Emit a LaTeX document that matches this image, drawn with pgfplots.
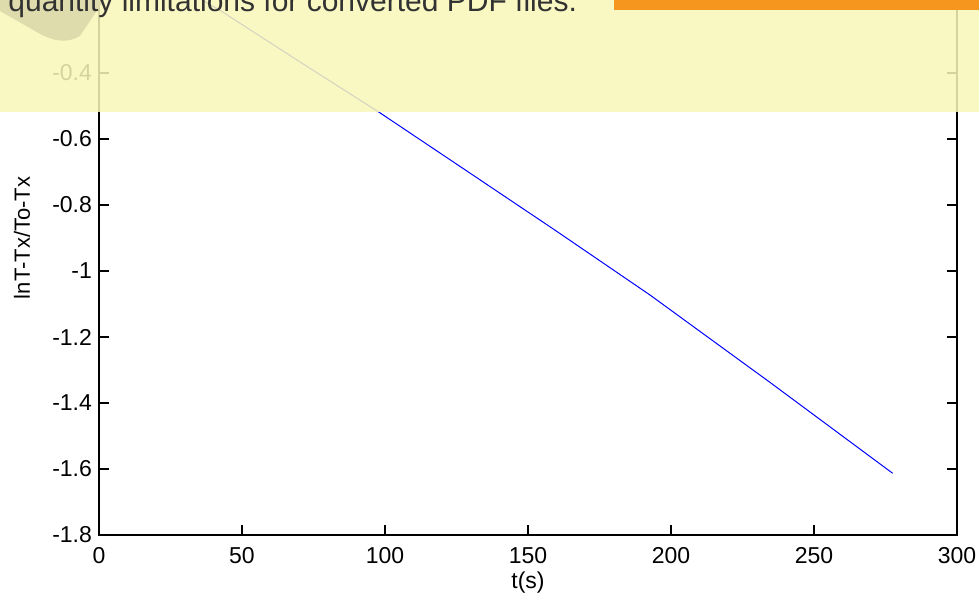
\documentclass[border=0pt]{standalone}
\usepackage{pgfplots}
\pgfplotsset{compat=1.18}
\usepackage{fontspec}
\setmainfont{Liberation Sans}
\definecolor{banner}{RGB}{248,246,184}
\definecolor{blob}{RGB}{222,220,172}
\definecolor{orangebar}{RGB}{247,150,30}
\definecolor{wmtext}{RGB}{50,50,50}
\begin{document}
\begin{tikzpicture}
\begin{axis}[
  at={(0,0)}, anchor=south west,
  scale only axis,
  width=429pt, height=297pt,
  xmin=0, xmax=300, ymin=-1.8, ymax=0,
  xtick={0,50,...,300},
  ytick={-1.8,-1.6,-1.4,-1.2,-1,-0.8,-0.6,-0.4},
  yticklabels={-1.8,-1.6,-1.4,-1.2,-1,-0.8,-0.6,-0.4},
  tick align=inside,
  major tick length=5pt,
  axis line style={black, line width=0.6pt},
  every tick/.style={black, line width=0.6pt},
  /pgf/number format/assume math mode=true,
  tick label style={font=\fontsize{11.5}{13}\selectfont},
  xticklabel style={yshift=-2.5pt},
  xlabel={t(s)},
  ylabel={lnT-Tx/To-Tx},
  every axis x label/.style={at={(axis description cs:0.5,-0.0808)}, anchor=center, font=\fontsize{11.5}{13}\selectfont},
  every axis y label/.style={at={(axis description cs:-0.0897,0.5)}, rotate=90, anchor=center, font=\fontsize{11}{13}\selectfont},
]
\addplot[blue, line width=0.5pt] coordinates {
  (0,0.0) (20,-0.1) (42.3,-0.21) (70,-0.365) (98.3,-0.521) (130,-0.705) (159.4,-0.876)
  (192.7,-1.073) (235,-1.340) (277.5,-1.613)
};
\end{axis}
\begin{scope}[shift={(-49.5pt,267.5pt)}, x=0.5pt, y=-0.5pt]
  \fill[banner, opacity=0.86] (0,0) rectangle (979,112);
  \fill[blob] (0,0) -- (0,11) -- (42,35) to[out=-25,in=-150] (80,36) -- (104,0) -- cycle;
  \fill[orangebar] (614,0) rectangle (979,10);
  \node[anchor=base west, inner sep=0pt, text=wmtext, font=\fontsize{15}{17}\selectfont] at (8,12) {quantity limitations for converted PDF files.};
\end{scope}
\pgfresetboundingbox
\path[use as bounding box] (-49.5pt,-32pt) rectangle (440pt,267.5pt);
\end{tikzpicture}
\end{document}
